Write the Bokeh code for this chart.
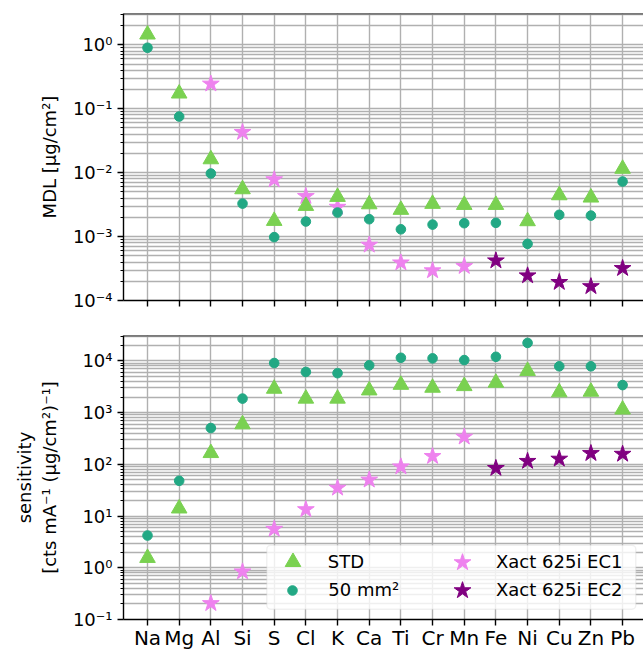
import math
from bokeh.plotting import figure
from bokeh.layouts import column
from bokeh.models import (Range1d, FixedTicker, CustomJSTickFormatter, Span,
                          Legend, LegendItem, BoxAnnotation)
from bokeh.embed import file_html
from bokeh.resources import INLINE

# ---------------- data ----------------
elements = ["Na", "Mg", "Al", "Si", "S", "Cl", "K", "Ca", "Ti", "Cr", "Mn",
            "Fe", "Ni", "Cu", "Zn", "Pb"]
ec1_elements = ["Al", "Si", "S", "Cl", "K", "Ca", "Ti", "Cr", "Mn"]
ec2_elements = ["Fe", "Ni", "Cu", "Zn", "Pb"]

mdl_std = [1.45, 0.173, 0.0162, 0.0055, 0.00176, 0.00302, 0.00418, 0.0032,
           0.00262, 0.00325, 0.00313, 0.00313, 0.00174, 0.00443, 0.00408, 0.0115]
mdl_50 = [0.90, 0.0755, 0.0097, 0.00328, 0.00098, 0.00172, 0.00238, 0.00187,
          0.0013, 0.00154, 0.00162, 0.00164, 0.00077, 0.00219, 0.00213, 0.00726]
mdl_ec1 = [0.245, 0.0429, 0.0078, 0.00427, 0.0029, 0.00074, 0.00039, 0.000294, 0.000343]
mdl_ec2 = [0.00042, 0.000245, 0.000193, 0.000166, 0.000319]

sens_std = [1.55, 14, 165, 592, 2890, 1860, 1860, 2680, 3440, 3020, 3250,
            3770, 6380, 2460, 2530, 1145]
sens_50 = [4.2, 48, 503, 1862, 9080, 6100, 5770, 8200, 11460, 11170, 10350,
           11970, 22200, 7850, 7850, 3400]
sens_ec1 = [0.205, 0.84, 5.6, 13.4, 34.9, 50, 90, 143, 339]
sens_ec2 = [84, 115, 127, 163, 158]

mdl_ticks = [1e-4, 1e-3, 1e-2, 1e-1, 1e0]
sens_ticks = [1e-1, 1e0, 1e1, 1e2, 1e3, 1e4]

labels = ["STD", "50 mm\u00b2", "Xact 625i EC1", "Xact 625i EC2"]

# ---------------- style ----------------
C_STD = "#7ad151"
C_50 = "#22a884"
C_EC1 = "violet"
C_EC2 = "purple"
GRID = "#b0b0b0"
FONT = "DejaVu Sans"
G_STD, G_50, G_STAR = 39, 24, 44          # legend glyph boxes (marker = 0.4 * box)
S_STD, S_50, S_STAR = 0.4 * G_STD, 0.4 * G_50, 0.4 * G_STAR

xpos = list(range(len(elements)))
x_ec1 = [elements.index(e) for e in ec1_elements]
x_ec2 = [elements.index(e) for e in ec2_elements]

log_fmt = CustomJSTickFormatter(code="""
const sup = {"-":"\u207b","0":"\u2070","1":"\u00b9","2":"\u00b2","3":"\u00b3",
             "4":"\u2074","5":"\u2075","6":"\u2076","7":"\u2077","8":"\u2078","9":"\u2079"};
const e = Math.round(Math.log10(tick));
return "10" + String(e).split("").map(c => sup[c]).join("");
""")


def minor_for(lo_exp, hi_val):
    out = []
    e = lo_exp
    while True:
        for m in range(2, 10):
            v = m * 10.0 ** e
            if v > hi_val:
                return out
            out.append(v)
        e += 1


def make_fig(frame_h, ylo, yhi, ticks, top_b, bot_b, show_x):
    p = figure(frame_width=520, frame_height=frame_h, output_backend="svg",
               toolbar_location=None, y_axis_type="log",
               x_range=Range1d(-0.758, 15.66), y_range=Range1d(ylo, yhi),
               min_border_left=123, min_border_right=0,
               min_border_top=top_b, min_border_bottom=bot_b)
    p.outline_line_color = None
    p.background_fill_color = "white"
    p.border_fill_color = "white"
    # y axis
    yt = FixedTicker(ticks=ticks, minor_ticks=minor_for(int(round(math.log10(ylo))), yhi))
    p.yaxis.ticker = yt
    p.yaxis.formatter = log_fmt
    p.yaxis.major_label_text_font = FONT
    p.yaxis.major_label_text_font_size = "18px"
    p.yaxis.major_label_text_color = "black"
    p.yaxis.axis_line_color = "black"
    p.yaxis.axis_line_width = 1.4
    p.yaxis.major_tick_line_width = 1.4
    p.yaxis.minor_tick_line_width = 1.0
    p.yaxis.major_tick_in = 0
    p.yaxis.major_tick_out = 6
    p.yaxis.minor_tick_in = 0
    p.yaxis.minor_tick_out = 3
    p.yaxis.major_label_standoff = 5
    p.yaxis.axis_label_text_font = FONT
    p.yaxis.axis_label_text_font_size = "18px"
    p.yaxis.axis_label_text_font_style = "normal"
    p.yaxis.axis_label_text_color = "black"
    p.yaxis.axis_label_standoff = 10
    # x axis
    p.xaxis.ticker = FixedTicker(ticks=xpos, minor_ticks=[])
    p.xaxis.axis_line_color = "black"
    p.xaxis.axis_line_width = 1.4
    p.xaxis.major_tick_line_width = 1.4
    p.xaxis.major_tick_in = 0
    p.xaxis.major_tick_out = 6
    p.xaxis.major_label_text_font = FONT
    p.xaxis.major_label_text_color = "black"
    if show_x:
        p.xaxis.major_label_overrides = {i: e for i, e in zip(xpos, elements)}
        p.xaxis.major_label_text_font_size = "20px"
        p.xaxis.major_label_standoff = 0
    else:
        p.xaxis.formatter = CustomJSTickFormatter(code="return '';")
        p.xaxis.major_label_text_font_size = "0px"
        p.xaxis.major_label_standoff = 0
    # grids
    p.xgrid.ticker = FixedTicker(ticks=xpos, minor_ticks=[])
    p.xgrid.grid_line_color = GRID
    p.xgrid.grid_line_width = 1.4
    p.ygrid.ticker = yt
    p.ygrid.grid_line_color = GRID
    p.ygrid.grid_line_width = 1.4
    p.ygrid.minor_grid_line_color = GRID
    p.ygrid.minor_grid_line_width = 1.4
    p.add_layout(Span(location=yhi, dimension="width", line_color="black", line_width=1.4))
    return p


def draw(p, std, d50, ec1, ec2):
    r1 = p.scatter(x_ec1, ec1, marker="star", size=S_STAR, fill_color=C_EC1, line_color=C_EC1)
    r2 = p.scatter(x_ec2, ec2, marker="star", size=S_STAR, fill_color=C_EC2, line_color=C_EC2)
    rs = p.scatter(xpos, std, marker="triangle", size=S_STD, fill_color=C_STD, line_color=C_STD)
    rc = p.scatter(xpos, d50, marker="circle", size=S_50, fill_color=C_50, line_color=C_50)
    return rs, rc, r1, r2


top = make_fig(287, 1e-4, 3.09, mdl_ticks, 13, 17, False)
top.yaxis.axis_label = "MDL [\u03bcg/cm\u00b2]"
draw(top, mdl_std, mdl_50, mdl_ec1, mdl_ec2)

bot = make_fig(284, 1e-1, 3.09e4, sens_ticks, 18, 30, True)
bot.yaxis.axis_label = "sensitivity\n[cts mA\u207b\u00b9 (\u03bcg/cm\u00b2)\u207b\u00b9]"
rs, rc, r1, r2 = draw(bot, sens_std, sens_50, sens_ec1, sens_ec2)

# legend frame (screen units relative to the frame)
bot.add_layout(BoxAnnotation(left=143.3, right=512.3, bottom=10.3, top=74.3,
                             left_units="screen", right_units="screen",
                             bottom_units="screen", top_units="screen",
                             fill_color="white", fill_alpha=0.8,
                             line_color="#cccccc", line_width=1.4,
                             border_radius=4))

# one single-item legend per entry so each marker keeps its own size
col_cx = [169.3, 169.3, 339.0, 339.0]     # glyph centres from frame left
row_cy = [57.3, 29.3, 57.3, 29.3]         # glyph centres from frame bottom
text_x = [205.0, 205.0, 373.3, 373.3]     # label start from frame left
for lab, r, g, cx, cy, tx in zip(labels, [rs, rc, r1, r2], [G_STD, G_50, G_STAR, G_STAR],
                                 col_cx, row_cy, text_x):
    lg = Legend(items=[LegendItem(label=lab, renderers=[r])],
                location=(cx - g / 2, cy - g / 2),
                glyph_width=g, glyph_height=g, label_height=20,
                label_standoff=int(round(tx - (cx + g / 2))),
                padding=0, spacing=0, margin=0,
                label_text_font=FONT, label_text_font_size="18px",
                label_text_color="black",
                border_line_color=None, background_fill_alpha=0)
    bot.add_layout(lg)

layout = column(top, bot, spacing=0)
open("out.html", "w").write(file_html(layout, INLINE))
